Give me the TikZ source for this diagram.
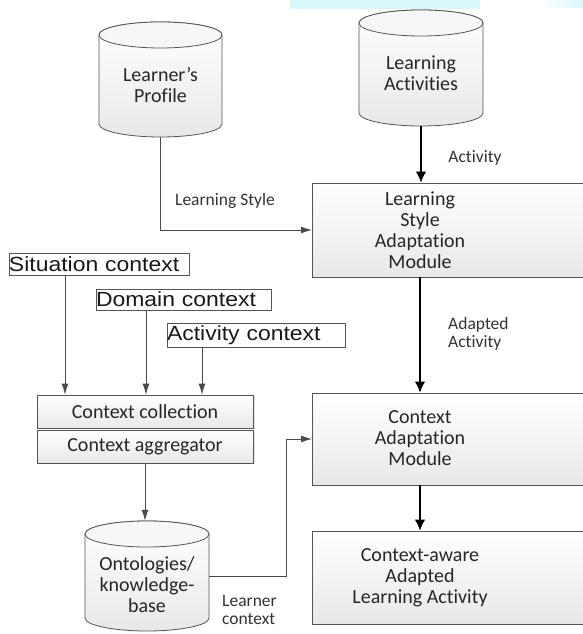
\documentclass[tikz,border=0pt]{standalone}
\usepackage{fontspec}
\setmainfont{Carlito}[Ligatures={NoCommon}]
\newfontfamily\arialf[FakeStretch=1.12]{Liberation Sans}
\usetikzlibrary{arrows.meta,shadows}
\definecolor{lineg}{HTML}{4A4A4A}
\definecolor{bordg}{HTML}{555555}
\definecolor{cyanband}{HTML}{D8F7FB}
\tikzset{
  boxshade/.style={top color=white, bottom color=black!9, draw=bordg, line width=0.8pt,
    drop shadow={opacity=0.2, shadow xshift=1.5pt, shadow yshift=-1.5pt}},
  modbox/.style={boxshade, rectangle, inner sep=0pt},
  ntext/.style={align=center, font=\fontsize{20}{21}\selectfont, text=black!85, inner sep=0pt},
  ctxbox/.style={draw=bordg, line width=0.8pt, fill=white, align=left, inner xsep=0pt, inner ysep=0pt,
    font=\arialf\fontsize{20.5}{22}\selectfont, text=black!90,
    drop shadow={opacity=0.15, shadow xshift=1pt, shadow yshift=-1pt}},
  lbl/.style={font=\fontsize{17.5}{18.5}\selectfont, text=black!80, inner sep=0pt},
  holder/.style={rectangle, inner sep=0pt},
  gline/.style={draw=lineg, line width=0.9pt, -{Latex[length=11pt,width=7pt]}},
  kline/.style={draw=black, line width=1.3pt, -{Latex[length=11pt,width=10.5pt]}},
  cylshade/.style={top color=white, bottom color=black!9, draw=bordg, line width=0.8pt},
}
\newcommand\drawcyl[5]{% cx, Ytop-center, Ybottom-center, half width, ry
  \path[cylshade] (#1-#4,#2) -- (#1-#4,#3) arc[start angle=180,end angle=360,x radius=#4,y radius=#5]
     -- (#1+#4,#2) arc[start angle=0,end angle=180,x radius=#4,y radius=#5] -- cycle;
  \draw[bordg, line width=0.8pt, fill=white!97!black] (#1,#2) ellipse[x radius=#4, y radius=#5];
}
\begin{document}
\begin{tikzpicture}[x=1pt,y=1pt]
\useasboundingbox (0,0) rectangle (583,634);
\clip (0,0) rectangle (583,634);
\fill[white] (0,0) rectangle (583,634);
% top artefact band
\fill[cyanband] (290,625) rectangle (480,634);
\shade[left color=white, right color=cyanband] (540,626) rectangle (583,634);

% cylinders
\drawcyl{160.5}{599}{510}{61.5}{13}
\drawcyl{421}{611}{521}{62}{13}
\drawcyl{147}{100}{16}{62}{13}
\node[holder, minimum width=123pt, minimum height=115pt] (lp) at (160.5,554.5) {};
\node[ntext] (lpt) at (160.5,549) {Learner’s\\Profile};
\node[holder, minimum width=124pt, minimum height=116pt] (la) at (421,566) {};
\node[ntext] (lat) at (421,560.5) {Learning\\Activities};
\node[holder, minimum width=124pt, minimum height=110pt] (ont) at (147,58) {};
\node[ntext] (ontt) at (147,49) {Ontologies/\\knowledge-\\base};

% module boxes
\node[modbox, minimum width=330pt, minimum height=94pt, anchor=west] (lsam) at (312,404) {};
\node[ntext] (lsamt) at (420,403.5) {Learning\\Style\\Adaptation\\Module};
\node[modbox, minimum width=330pt, minimum height=92pt, anchor=west] (cam) at (312,195) {};
\node[ntext] (camt) at (420,196) {Context\\Adaptation\\Module};
\node[modbox, minimum width=330pt, minimum height=93pt, anchor=west] (fin) at (312,56.5) {};
\node[ntext] (fint) at (420,56) {Context-aware\\Adapted\\Learning Activity};

% context collection / aggregator
\node[modbox, minimum width=216pt, minimum height=33pt] (cc) at (145,222.5) {};
\node[ntext] (cct) at (145,222.5) {Context collection};
\node[modbox, minimum width=216pt, minimum height=33pt] (agg) at (145,187.5) {};
\node[ntext] (aggt) at (145,187.5) {Context aggregator};

% context sources
\node[ctxbox, text width=180pt, minimum height=22pt] (sit) at (99,370) {Situation context};
\node[ctxbox, text width=175pt, minimum height=21pt] (dom) at (183.5,334.5) {Domain context};
\node[ctxbox, text width=178pt, minimum height=24pt] (act) at (256,299) {Activity context};

% connectors
\draw[gline] (sit.south -| 65,0) -- (cc.north -| 65,0);
\draw[gline] (dom.south -| 146,0) -- (cc.north -| 146,0);
\draw[gline] (act.south -| 202,0) -- (cc.north -| 202,0);
\draw[gline] (agg.south) -- (agg.south |- ont.north);
\draw[gline] (lp.south) |- (lsam.west);
\draw[gline] (ont.east) -- ++(77,0) |- (cam.west);
\draw[kline] (la.south) -- (la.south |- lsam.north);
\draw[kline] (lsamt |- lsam.south) -- (lsamt |- cam.north);
\draw[kline] (camt |- cam.south) -- (camt |- fin.north);

% labels
\node[lbl] (l1) at (475,476) {Activity};
\node[lbl] (l2) at (225,433) {Learning Style};
\node[lbl, align=left, anchor=west] (l3) at (448,300) {Adapted\\Activity};
\node[lbl, align=left, anchor=west] (l4) at (222,24) {Learner\\context};
\end{tikzpicture}
\end{document}
